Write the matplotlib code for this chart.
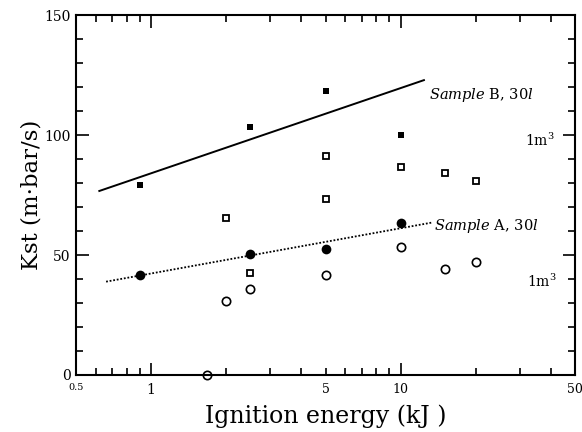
import matplotlib
matplotlib.use("Agg")
import matplotlib.pyplot as plt
from matplotlib.ticker import FixedLocator, NullFormatter

plt.rcParams['font.family'] = 'DejaVu Serif'
plt.rcParams['mathtext.fontset'] = 'dejavuserif'

# Sample B, 30 l (filled squares)
b30_x = [0.9, 2.5, 5, 10]
b30_y = [79, 103.5, 118.3, 100]
# Sample B, 1 m3 (open squares)
b1m_x = [2, 2.5, 5, 5, 10, 15, 20]
b1m_y = [65.5, 42.6, 91.4, 73.3, 86.5, 84, 80.8]
# Sample A, 30 l (filled circles)
a30_x = [0.9, 2.5, 5, 10]
a30_y = [41.8, 50.4, 52.4, 63.2]
# Sample A, 1 m3 (open circles)
a1m_x = [1.67, 2, 2.5, 5, 10, 15, 20]
a1m_y = [0, 31, 35.7, 41.5, 53.2, 44.2, 47]
# fitted trend lines (end points)
lineB_x = [0.62, 12.4]
lineB_y = [76.7, 122.9]
lineA_x = [0.66, 13.3]
lineA_y = [38.9, 63.5]

fig = plt.figure(figsize=(5.82, 4.32), dpi=100)
ax = fig.add_axes([0.1306, 0.132, 0.8574, 0.833])

ax.plot(lineB_x, lineB_y, color='black', lw=1.4)
ax.plot(lineA_x, lineA_y, color='black', lw=1.3, ls=(0, (1, 1)))
ax.plot(b30_x, b30_y, 's', color='black', ms=5, mew=0)
ax.plot(b1m_x, b1m_y, 's', mfc='white', mec='black', ms=4.5, mew=1.3)
ax.plot(a30_x, a30_y, 'o', color='black', ms=7, mew=0)
ax.plot(a1m_x, a1m_y, 'o', mfc='white', mec='black', ms=6, mew=1.2, clip_on=False)

ax.set_xscale('log')
ax.set_xlim(0.5, 50)
ax.set_ylim(0, 150)

ax.xaxis.set_major_locator(FixedLocator([1, 10]))
ax.xaxis.set_minor_locator(FixedLocator([0.6, 0.7, 0.8, 0.9, 2, 3, 4, 5, 6, 7, 8, 9, 20, 30, 40]))
ax.xaxis.set_major_formatter(NullFormatter())
ax.xaxis.set_minor_formatter(NullFormatter())
ax.yaxis.set_major_locator(FixedLocator([0, 50, 100, 150]))
ax.yaxis.set_minor_locator(FixedLocator([10, 20, 30, 40, 60, 70, 80, 90, 110, 120, 130, 140]))
ax.set_yticklabels(['0', '50', '100', '150'], fontsize=10)

ax.tick_params(which='both', direction='in', top=True, right=True, width=1.2)
ax.tick_params(which='major', length=9, pad=4)
ax.tick_params(which='minor', length=5)
for s in ax.spines.values():
    s.set_linewidth(1.5)

# x tick labels placed by hand to mimic the original mixed sizes
xlabs = [(0.5, '0.5', 7), (1, '1', 10), (5, '5', 9), (10, '10', 9), (50, '50', 9)]
for xv, t, fs in xlabs:
    ax.text(xv, -3.5, t, fontsize=fs, ha='center', va='top')

ax.set_xlabel('Ignition energy (kJ )', fontsize=17, labelpad=17)
ax.set_ylabel('Kst (m·bar/s)', fontsize=16.5, labelpad=1)

ax.text(13.0, 116.5, r'$\it{Sample}$ B, 30$\it{l}$', fontsize=10.5, va='center')
ax.text(31.5, 98, r'1m$^3$', fontsize=10, va='center')
ax.text(13.6, 62, r'$\it{Sample}$ A, 30$\it{l}$', fontsize=10.5, va='center')
ax.text(32, 39, r'1m$^3$', fontsize=10, va='center')

fig.savefig('out.png', dpi=100)
